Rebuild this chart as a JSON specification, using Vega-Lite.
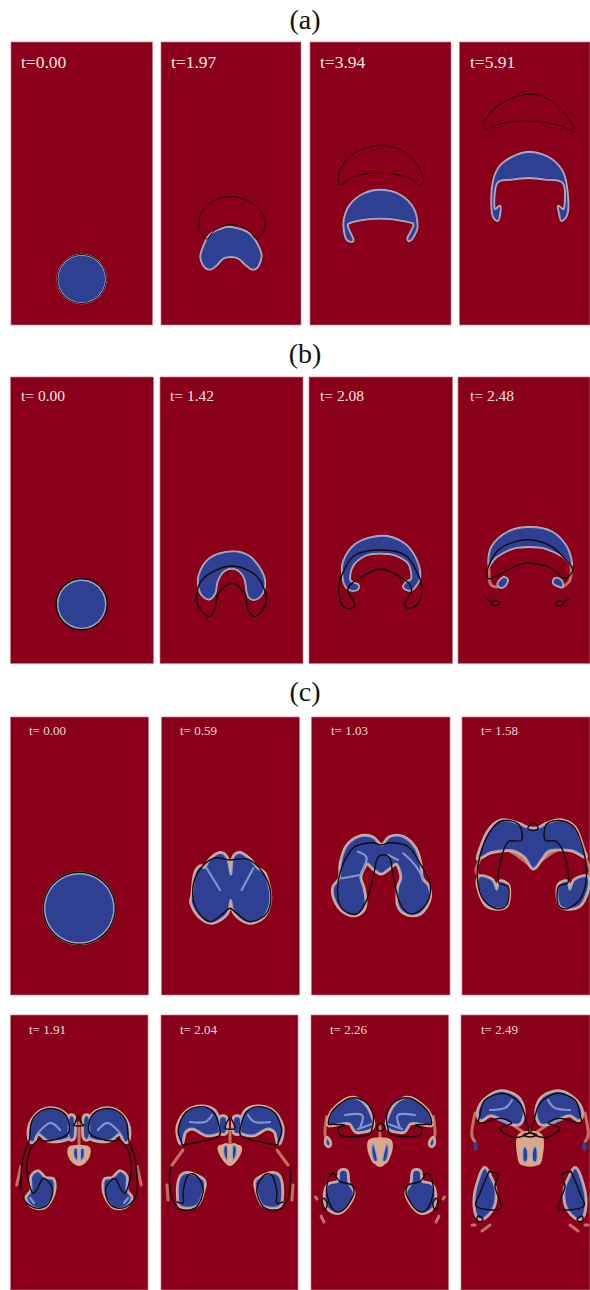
{"$schema":"https://vega.github.io/schema/vega-lite/v6.json","width":590,"height":1290,"padding":0,"autosize":{"type":"none"},"background":"white","config":{"view":{"stroke":null}},
"datasets":{
"panels":[
{"p":"a1","x":11,"x2":152.5,"y":42,"y2":325},{"p":"a2","x":161,"x2":301,"y":42,"y2":325},{"p":"a3","x":310,"x2":451,"y":42,"y2":325},{"p":"a4","x":459.5,"x2":590,"y":42,"y2":325},
{"p":"b1","x":10.5,"x2":153.5,"y":377,"y2":663.5},{"p":"b2","x":160,"x2":303,"y":377,"y2":663.5},{"p":"b3","x":309,"x2":452.5,"y":377,"y2":663.5},{"p":"b4","x":458,"x2":590,"y":377,"y2":663.5},
{"p":"c1","x":10.5,"x2":148.5,"y":717,"y2":995},{"p":"c2","x":161.5,"x2":299.5,"y":717,"y2":995},{"p":"c3","x":311.5,"x2":450,"y":717,"y2":995},{"p":"c4","x":462,"x2":590,"y":717,"y2":995},
{"p":"c5","x":10.5,"x2":148,"y":1015,"y2":1290},{"p":"c6","x":161,"x2":298,"y":1015,"y2":1290},{"p":"c7","x":311,"x2":448.5,"y":1015,"y2":1290},{"p":"c8","x":461,"x2":590,"y":1015,"y2":1290}],
"labels":[
{"t":"(a)","k":"h","x":305,"y":21},{"t":"(b)","k":"h","x":305,"y":355},{"t":"(c)","k":"h","x":305,"y":693},
{"t":"t=0.00","k":"m","x":21,"y":63},{"t":"t=1.97","k":"m","x":171,"y":63},{"t":"t=3.94","k":"m","x":320,"y":63},{"t":"t=5.91","k":"m","x":470,"y":63},
{"t":"t= 0.00","k":"m2","x":21,"y":396},{"t":"t= 1.42","k":"m2","x":170,"y":396},{"t":"t= 2.08","k":"m2","x":320,"y":396},{"t":"t= 2.48","k":"m2","x":470,"y":396},
{"t":"t= 0.00","k":"s","x":29,"y":731},{"t":"t= 0.59","k":"s","x":180,"y":731},{"t":"t= 1.03","k":"s","x":331,"y":731},{"t":"t= 1.58","k":"s","x":481,"y":731},
{"t":"t= 1.91","k":"s","x":29,"y":1030},{"t":"t= 2.04","k":"s","x":180,"y":1030},{"t":"t= 2.26","k":"s","x":330,"y":1030},{"t":"t= 2.49","k":"s","x":481,"y":1030}],
"halos":[
{"s":"c5h","x":70,"y":1147},{"s":"c5h","x":88,"y":1147},{"s":"c5h","x":88,"y":1158},{"s":"c5h","x":79,"y":1165},{"s":"c5h","x":70,"y":1158},
{"s":"c6h","x":220,"y":1146},{"s":"c6h","x":239.3,"y":1146},{"s":"c6h","x":239.3,"y":1155},{"s":"c6h","x":230,"y":1165},{"s":"c6h","x":220.7,"y":1155},
{"s":"c7h","x":370,"y":1140},{"s":"c7h","x":390,"y":1140},{"s":"c7h","x":390,"y":1155},{"s":"c7h","x":380,"y":1166},{"s":"c7h","x":370,"y":1155},
{"s":"c8h","x":519,"y":1135},{"s":"c8h","x":541,"y":1135},{"s":"c8h","x":541,"y":1160},{"s":"c8h","x":535,"y":1165},{"s":"c8h","x":525,"y":1165},{"s":"c8h","x":519,"y":1160}],
"tan":[
{"s":"b4l","x":489,"y":565},{"s":"b4l","x":490,"y":583},{"s":"b4l","x":497,"y":587},
{"s":"b4r","x":571,"y":565},{"s":"b4r","x":570,"y":580},{"s":"b4r","x":562,"y":587},
{"s":"c4l","x":481,"y":857},{"s":"c4l","x":476,"y":870},{"s":"c4l","x":480,"y":877},
{"s":"c4r","x":585,"y":857},{"s":"c4r","x":590,"y":870},{"s":"c4r","x":586.6,"y":877},
{"s":"c4w1","x":482,"y":857},{"s":"c4w1","x":505,"y":849},{"s":"c4w1","x":533,"y":868},
{"s":"c4w2","x":585,"y":857},{"s":"c4w2","x":560,"y":849},{"s":"c4w2","x":533,"y":868},
{"s":"c4m","x":533.3,"y":830},{"s":"c4m","x":533.3,"y":866},
{"s":"c3m","x":381,"y":845},{"s":"c3m","x":381,"y":871},
{"s":"c2m","x":230,"y":860},{"s":"c2m","x":230,"y":872},
{"s":"c5m","x":79,"y":1123},{"s":"c5m","x":79,"y":1147},
{"s":"c5sl","x":16.7,"y":1185},{"s":"c5sl","x":20.7,"y":1166.7},
{"s":"c5sr","x":141.3,"y":1185},{"s":"c5sr","x":137.3,"y":1166.7},
{"s":"c6m","x":230,"y":1130},{"s":"c6m","x":230,"y":1146},
{"s":"c6sl","x":168,"y":1200},{"s":"c6sl","x":167,"y":1185},
{"s":"c6sr","x":292,"y":1200},{"s":"c6sr","x":293,"y":1185},
{"s":"c6fl","x":172,"y":1165},{"s":"c6fl","x":183,"y":1150},
{"s":"c6fr","x":288,"y":1165},{"s":"c6fr","x":277,"y":1150},
{"s":"c7m","x":380,"y":1126.7},{"s":"c7m","x":380,"y":1150},
{"s":"c7tl","x":326.7,"y":1116.7},{"s":"c7tl","x":325,"y":1133.3},{"s":"c7tl","x":328.3,"y":1145},
{"s":"c7tr","x":433.3,"y":1116.7},{"s":"c7tr","x":435,"y":1133.3},{"s":"c7tr","x":431.7,"y":1145},
{"s":"c7s1","x":321,"y":1216},{"s":"c7s1","x":324,"y":1222},
{"s":"c7s2","x":315.5,"y":1197},{"s":"c7s2","x":317,"y":1199},
{"s":"c7s3","x":439,"y":1216},{"s":"c7s3","x":436,"y":1222},
{"s":"c7s4","x":444.5,"y":1197},{"s":"c7s4","x":443,"y":1199},
{"s":"c8tl","x":475,"y":1113},{"s":"c8tl","x":471.7,"y":1133.3},{"s":"c8tl","x":475,"y":1141.7},
{"s":"c8tr","x":585,"y":1113},{"s":"c8tr","x":588.3,"y":1133.3},{"s":"c8tr","x":585,"y":1141.7},
{"s":"c8al","x":513,"y":1125},{"s":"c8al","x":526,"y":1134},
{"s":"c8ar","x":547,"y":1125},{"s":"c8ar","x":534,"y":1134},
{"s":"c8m","x":530,"y":1130},{"s":"c8m","x":530,"y":1160},
{"s":"c8s1","x":472,"y":1225},{"s":"c8s1","x":475,"y":1225},
{"s":"c8s2","x":482,"y":1231},{"s":"c8s2","x":490,"y":1225},
{"s":"c8s3","x":588,"y":1225},{"s":"c8s3","x":585,"y":1225},
{"s":"c8s4","x":578,"y":1231},{"s":"c8s4","x":570,"y":1225},
{"s":"c8d1","x":475.7,"y":1144},{"s":"c8d1","x":475.7,"y":1149},
{"s":"c8d2","x":584.3,"y":1144},{"s":"c8d2","x":584.3,"y":1149}],
"blobs":[
{"s":"a1","g":"a","x":105.7,"y":279},{"s":"a1","g":"a","x":102.5,"y":291},{"s":"a1","g":"a","x":93.7,"y":299.8},{"s":"a1","g":"a","x":81.7,"y":303},{"s":"a1","g":"a","x":69.7,"y":299.8},{"s":"a1","g":"a","x":60.9,"y":291},{"s":"a1","g":"a","x":57.7,"y":279},{"s":"a1","g":"a","x":60.9,"y":267},{"s":"a1","g":"a","x":69.7,"y":258.2},{"s":"a1","g":"a","x":81.7,"y":255},{"s":"a1","g":"a","x":93.7,"y":258.2},{"s":"a1","g":"a","x":102.5,"y":267},
{"s":"a2","g":"a","x":231,"y":227.3},{"s":"a2","g":"a","x":250,"y":234.3},{"s":"a2","g":"a","x":261,"y":253.3},{"s":"a2","g":"a","x":258.3,"y":266},{"s":"a2","g":"a","x":252.3,"y":269.3},{"s":"a2","g":"a","x":246,"y":265},{"s":"a2","g":"a","x":238.3,"y":258.3},{"s":"a2","g":"a","x":231,"y":256.7},{"s":"a2","g":"a","x":223.3,"y":258.3},{"s":"a2","g":"a","x":216.7,"y":265},{"s":"a2","g":"a","x":210,"y":269.3},{"s":"a2","g":"a","x":203.3,"y":265},{"s":"a2","g":"a","x":200.7,"y":255},{"s":"a2","g":"a","x":208.3,"y":236.7},{"s":"a2","g":"a","x":218.3,"y":230},
{"s":"a3","g":"a","x":381,"y":190},{"s":"a3","g":"a","x":400,"y":195},{"s":"a3","g":"a","x":413.3,"y":208.3},{"s":"a3","g":"a","x":417.3,"y":226.7},{"s":"a3","g":"a","x":413.3,"y":236.7},{"s":"a3","g":"a","x":410,"y":240.7},{"s":"a3","g":"a","x":407.7,"y":238.3},{"s":"a3","g":"a","x":413.3,"y":226.7},{"s":"a3","g":"a","x":411.7,"y":222.7},{"s":"a3","g":"a","x":395,"y":219.3},{"s":"a3","g":"a","x":381,"y":218.3},{"s":"a3","g":"a","x":365,"y":219.3},{"s":"a3","g":"a","x":350,"y":222.7},{"s":"a3","g":"a","x":347.7,"y":226.7},{"s":"a3","g":"a","x":353.3,"y":240},{"s":"a3","g":"a","x":348.3,"y":240.7},{"s":"a3","g":"a","x":345,"y":235},{"s":"a3","g":"a","x":344,"y":220},{"s":"a3","g":"a","x":350,"y":205},{"s":"a3","g":"a","x":363.3,"y":194},
{"s":"a4","g":"a","x":529,"y":152.3},{"s":"a4","g":"a","x":548.3,"y":157.3},{"s":"a4","g":"a","x":561.7,"y":170},{"s":"a4","g":"a","x":566.7,"y":186.7},{"s":"a4","g":"a","x":567.7,"y":211.7},{"s":"a4","g":"a","x":561.7,"y":220.7},{"s":"a4","g":"a","x":559,"y":211.7},{"s":"a4","g":"a","x":558.3,"y":206},{"s":"a4","g":"a","x":564.3,"y":208.3},{"s":"a4","g":"a","x":563.3,"y":183.3},{"s":"a4","g":"a","x":545,"y":179.3},{"s":"a4","g":"a","x":529,"y":177.7},{"s":"a4","g":"a","x":511.7,"y":179.3},{"s":"a4","g":"a","x":496.7,"y":183.3},{"s":"a4","g":"a","x":494.3,"y":208.3},{"s":"a4","g":"a","x":500,"y":206},{"s":"a4","g":"a","x":500,"y":213.3},{"s":"a4","g":"a","x":497.7,"y":220.7},{"s":"a4","g":"a","x":492.3,"y":213.3},{"s":"a4","g":"a","x":492.3,"y":186.7},{"s":"a4","g":"a","x":498.3,"y":168.3},{"s":"a4","g":"a","x":511.7,"y":157.3},
{"s":"b1","g":"b","x":105.7,"y":604.3},{"s":"b1","g":"b","x":102.5,"y":616.3},{"s":"b1","g":"b","x":93.7,"y":625.1},{"s":"b1","g":"b","x":81.7,"y":628.3},{"s":"b1","g":"b","x":69.7,"y":625.1},{"s":"b1","g":"b","x":60.9,"y":616.3},{"s":"b1","g":"b","x":57.7,"y":604.3},{"s":"b1","g":"b","x":60.9,"y":592.3},{"s":"b1","g":"b","x":69.7,"y":583.5},{"s":"b1","g":"b","x":81.7,"y":580.3},{"s":"b1","g":"b","x":93.7,"y":583.5},{"s":"b1","g":"b","x":102.5,"y":592.3},
{"s":"b2","g":"b","x":231.7,"y":551.7},{"s":"b2","g":"b","x":250,"y":556.7},{"s":"b2","g":"b","x":263.3,"y":575},{"s":"b2","g":"b","x":264,"y":590},{"s":"b2","g":"b","x":256.7,"y":599},{"s":"b2","g":"b","x":248.3,"y":596.7},{"s":"b2","g":"b","x":245,"y":580},{"s":"b2","g":"b","x":240,"y":571.7},{"s":"b2","g":"b","x":231.7,"y":568.3},{"s":"b2","g":"b","x":223.3,"y":571.7},{"s":"b2","g":"b","x":217.3,"y":581.7},{"s":"b2","g":"b","x":215,"y":593.3},{"s":"b2","g":"b","x":208.3,"y":599.3},{"s":"b2","g":"b","x":200,"y":591.7},{"s":"b2","g":"b","x":199,"y":575},{"s":"b2","g":"b","x":210,"y":558.3},
{"s":"b3","g":"b","x":381,"y":536},{"s":"b3","g":"b","x":401.7,"y":541.7},{"s":"b3","g":"b","x":415,"y":556.7},{"s":"b3","g":"b","x":420,"y":576.7},{"s":"b3","g":"b","x":411.7,"y":590},{"s":"b3","g":"b","x":403.3,"y":587.3},{"s":"b3","g":"b","x":406.7,"y":581.7},{"s":"b3","g":"b","x":411.7,"y":578.3},{"s":"b3","g":"b","x":408.3,"y":563.3},{"s":"b3","g":"b","x":395,"y":555},{"s":"b3","g":"b","x":381,"y":553.3},{"s":"b3","g":"b","x":366.7,"y":555},{"s":"b3","g":"b","x":353.3,"y":565},{"s":"b3","g":"b","x":350,"y":580},{"s":"b3","g":"b","x":358.3,"y":585},{"s":"b3","g":"b","x":356.7,"y":590},{"s":"b3","g":"b","x":348.3,"y":589.3},{"s":"b3","g":"b","x":343.3,"y":580},{"s":"b3","g":"b","x":343.3,"y":561.7},{"s":"b3","g":"b","x":356.7,"y":543.3},
{"s":"b4","g":"b","x":530,"y":527.3},{"s":"b4","g":"b","x":551.7,"y":531.7},{"s":"b4","g":"b","x":566.7,"y":546.7},{"s":"b4","g":"b","x":571.7,"y":565},{"s":"b4","g":"b","x":563.3,"y":556.7},{"s":"b4","g":"b","x":545,"y":548.3},{"s":"b4","g":"b","x":530,"y":546.7},{"s":"b4","g":"b","x":513.3,"y":548.3},{"s":"b4","g":"b","x":496.7,"y":556.7},{"s":"b4","g":"b","x":489,"y":565},{"s":"b4","g":"b","x":491.7,"y":546.7},{"s":"b4","g":"b","x":508.3,"y":531.7},
{"s":"b4a","g":"b","x":500,"y":587.3},{"s":"b4a","g":"b","x":497.7,"y":583.3},{"s":"b4a","g":"b","x":503.3,"y":577.3},{"s":"b4a","g":"b","x":507.7,"y":580},{"s":"b4a","g":"b","x":505,"y":586},
{"s":"b4b","g":"b","x":561.7,"y":587.3},{"s":"b4b","g":"b","x":553.3,"y":583.3},{"s":"b4b","g":"b","x":555,"y":578.3},{"s":"b4b","g":"b","x":560,"y":579.3},{"s":"b4b","g":"b","x":562.7,"y":583.3},
{"s":"c1","g":"c","x":113.8,"y":908.3},{"s":"c1","g":"c","x":109.2,"y":925.6},{"s":"c1","g":"c","x":96.6,"y":938.2},{"s":"c1","g":"c","x":79.3,"y":942.8},{"s":"c1","g":"c","x":62,"y":938.2},{"s":"c1","g":"c","x":49.4,"y":925.6},{"s":"c1","g":"c","x":44.8,"y":908.3},{"s":"c1","g":"c","x":49.4,"y":891},{"s":"c1","g":"c","x":62,"y":878.4},{"s":"c1","g":"c","x":79.3,"y":873.8},{"s":"c1","g":"c","x":96.6,"y":878.4},{"s":"c1","g":"c","x":109.2,"y":891},
{"s":"c2","g":"c","x":230,"y":873.3},{"s":"c2","g":"c","x":226.7,"y":858.3},{"s":"c2","g":"c","x":220,"y":853.3},{"s":"c2","g":"c","x":210,"y":860},{"s":"c2","g":"c","x":205,"y":868.3},{"s":"c2","g":"c","x":200,"y":866.7},{"s":"c2","g":"c","x":195,"y":875},{"s":"c2","g":"c","x":192.7,"y":895},{"s":"c2","g":"c","x":191.7,"y":903.3},{"s":"c2","g":"c","x":200,"y":916.7},{"s":"c2","g":"c","x":213.3,"y":922.3},{"s":"c2","g":"c","x":226.7,"y":913.3},{"s":"c2","g":"c","x":230.7,"y":899.3},{"s":"c2","g":"c","x":235,"y":913.3},{"s":"c2","g":"c","x":248.3,"y":922.3},{"s":"c2","g":"c","x":263.3,"y":916.7},{"s":"c2","g":"c","x":270,"y":898.3},{"s":"c2","g":"c","x":265,"y":875},{"s":"c2","g":"c","x":256.7,"y":868.3},{"s":"c2","g":"c","x":250,"y":860},{"s":"c2","g":"c","x":240,"y":853.3},{"s":"c2","g":"c","x":233.3,"y":858.3},{"s":"c2","g":"c","x":231.7,"y":873.3},
{"s":"c3","g":"c","x":380,"y":845},{"s":"c3","g":"c","x":371.7,"y":837.3},{"s":"c3","g":"c","x":358.3,"y":837.3},{"s":"c3","g":"c","x":346.7,"y":846.7},{"s":"c3","g":"c","x":341,"y":863.3},{"s":"c3","g":"c","x":340,"y":878.3},{"s":"c3","g":"c","x":333.3,"y":888.3},{"s":"c3","g":"c","x":336.7,"y":903.3},{"s":"c3","g":"c","x":346.7,"y":913.3},{"s":"c3","g":"c","x":358.3,"y":914},{"s":"c3","g":"c","x":365,"y":905},{"s":"c3","g":"c","x":363.3,"y":888.3},{"s":"c3","g":"c","x":360,"y":876.7},{"s":"c3","g":"c","x":366.7,"y":863.3},{"s":"c3","g":"c","x":373.3,"y":868.3},{"s":"c3","g":"c","x":381,"y":873.3},{"s":"c3","g":"c","x":389,"y":868.3},{"s":"c3","g":"c","x":396.7,"y":863.3},{"s":"c3","g":"c","x":401.7,"y":876.7},{"s":"c3","g":"c","x":398.3,"y":888.3},{"s":"c3","g":"c","x":398.3,"y":905},{"s":"c3","g":"c","x":406.7,"y":914},{"s":"c3","g":"c","x":420,"y":913.3},{"s":"c3","g":"c","x":429,"y":900},{"s":"c3","g":"c","x":428.3,"y":886.7},{"s":"c3","g":"c","x":421.7,"y":878.3},{"s":"c3","g":"c","x":420,"y":863.3},{"s":"c3","g":"c","x":415,"y":848.3},{"s":"c3","g":"c","x":403.3,"y":837.3},{"s":"c3","g":"c","x":390,"y":837.3},{"s":"c3","g":"c","x":383.3,"y":845},
{"s":"c4","g":"c","x":533.3,"y":868.3},{"s":"c4","g":"c","x":525,"y":856.7},{"s":"c4","g":"c","x":511.7,"y":850},{"s":"c4","g":"c","x":491.7,"y":851.7},{"s":"c4","g":"c","x":481.7,"y":856.7},{"s":"c4","g":"c","x":478.3,"y":856.7},{"s":"c4","g":"c","x":488.3,"y":831.7},{"s":"c4","g":"c","x":501.7,"y":820.7},{"s":"c4","g":"c","x":518.3,"y":824},{"s":"c4","g":"c","x":528.3,"y":828.3},{"s":"c4","g":"c","x":538.3,"y":828.3},{"s":"c4","g":"c","x":548.3,"y":823.3},{"s":"c4","g":"c","x":561.7,"y":820.7},{"s":"c4","g":"c","x":575,"y":828.3},{"s":"c4","g":"c","x":583.3,"y":850},{"s":"c4","g":"c","x":585,"y":856.7},{"s":"c4","g":"c","x":571.7,"y":850},{"s":"c4","g":"c","x":550,"y":850},{"s":"c4","g":"c","x":541.7,"y":858.3},
{"s":"c4a","g":"c","x":480,"y":876.7},{"s":"c4a","g":"c","x":491.7,"y":880},{"s":"c4a","g":"c","x":496.7,"y":890},{"s":"c4a","g":"c","x":500,"y":881.7},{"s":"c4a","g":"c","x":508.3,"y":886.7},{"s":"c4a","g":"c","x":506.7,"y":905},{"s":"c4a","g":"c","x":495,"y":908.3},{"s":"c4a","g":"c","x":485,"y":903.3},{"s":"c4a","g":"c","x":478.3,"y":886.7},
{"s":"c4b","g":"c","x":586.6,"y":876.7},{"s":"c4b","g":"c","x":574.9,"y":880},{"s":"c4b","g":"c","x":569.9,"y":890},{"s":"c4b","g":"c","x":566.6,"y":881.7},{"s":"c4b","g":"c","x":558.3,"y":886.7},{"s":"c4b","g":"c","x":559.9,"y":905},{"s":"c4b","g":"c","x":571.6,"y":908.3},{"s":"c4b","g":"c","x":581.6,"y":903.3},{"s":"c4b","g":"c","x":588.3,"y":886.7},
{"s":"c5a","g":"c","x":29.3,"y":1138.3},{"s":"c5a","g":"c","x":30.7,"y":1123.3},{"s":"c5a","g":"c","x":41.7,"y":1110.7},{"s":"c5a","g":"c","x":55,"y":1109},{"s":"c5a","g":"c","x":66.7,"y":1116.7},{"s":"c5a","g":"c","x":69,"y":1136.7},{"s":"c5a","g":"c","x":50,"y":1140.7},{"s":"c5a","g":"c","x":38.3,"y":1133.3},{"s":"c5a","g":"c","x":33.3,"y":1141.7},
{"s":"c5b","g":"c","x":128.7,"y":1138.3},{"s":"c5b","g":"c","x":127.3,"y":1123.3},{"s":"c5b","g":"c","x":116.3,"y":1110.7},{"s":"c5b","g":"c","x":103,"y":1109},{"s":"c5b","g":"c","x":91.3,"y":1116.7},{"s":"c5b","g":"c","x":89,"y":1136.7},{"s":"c5b","g":"c","x":108,"y":1140.7},{"s":"c5b","g":"c","x":119.7,"y":1133.3},{"s":"c5b","g":"c","x":124.7,"y":1141.7},
{"s":"c5c","g":"c","x":69,"y":1118},{"s":"c5c","g":"c","x":74,"y":1118},{"s":"c5c","g":"c","x":74,"y":1137},{"s":"c5c","g":"c","x":69,"y":1137},
{"s":"c5d","g":"c","x":89,"y":1118},{"s":"c5d","g":"c","x":84,"y":1118},{"s":"c5d","g":"c","x":84,"y":1137},{"s":"c5d","g":"c","x":89,"y":1137},
{"s":"c5e","g":"c","x":74,"y":1149.3},{"s":"c5e","g":"c","x":77.3,"y":1149.3},{"s":"c5e","g":"c","x":77.3,"y":1160},{"s":"c5e","g":"c","x":74,"y":1156.7},
{"s":"c5f","g":"c","x":84,"y":1149.3},{"s":"c5f","g":"c","x":80.7,"y":1149.3},{"s":"c5f","g":"c","x":80.7,"y":1160},{"s":"c5f","g":"c","x":84,"y":1156.7},
{"s":"c5g","g":"c","x":31.7,"y":1176.7},{"s":"c5g","g":"c","x":38.3,"y":1171.7},{"s":"c5g","g":"c","x":45,"y":1178.3},{"s":"c5g","g":"c","x":53.3,"y":1180},{"s":"c5g","g":"c","x":53.3,"y":1193.3},{"s":"c5g","g":"c","x":45,"y":1206.7},{"s":"c5g","g":"c","x":33.3,"y":1206.7},{"s":"c5g","g":"c","x":26.7,"y":1198.3},{"s":"c5g","g":"c","x":31.7,"y":1190},
{"s":"c5i","g":"c","x":126.3,"y":1176.7},{"s":"c5i","g":"c","x":119.7,"y":1171.7},{"s":"c5i","g":"c","x":113,"y":1178.3},{"s":"c5i","g":"c","x":104.7,"y":1180},{"s":"c5i","g":"c","x":104.7,"y":1193.3},{"s":"c5i","g":"c","x":113,"y":1206.7},{"s":"c5i","g":"c","x":124.7,"y":1206.7},{"s":"c5i","g":"c","x":131.3,"y":1198.3},{"s":"c5i","g":"c","x":126.3,"y":1190},
{"s":"c6a","g":"c","x":178.3,"y":1136.7},{"s":"c6a","g":"c","x":178.3,"y":1125},{"s":"c6a","g":"c","x":186.7,"y":1111.7},{"s":"c6a","g":"c","x":200,"y":1106.7},{"s":"c6a","g":"c","x":213.3,"y":1110},{"s":"c6a","g":"c","x":219.3,"y":1121.7},{"s":"c6a","g":"c","x":220,"y":1131.7},{"s":"c6a","g":"c","x":206.7,"y":1135},{"s":"c6a","g":"c","x":193.3,"y":1128.3},{"s":"c6a","g":"c","x":185,"y":1131.7},{"s":"c6a","g":"c","x":181.7,"y":1143.3},
{"s":"c6b","g":"c","x":281.7,"y":1136.7},{"s":"c6b","g":"c","x":281.7,"y":1125},{"s":"c6b","g":"c","x":273.3,"y":1111.7},{"s":"c6b","g":"c","x":260,"y":1106.7},{"s":"c6b","g":"c","x":246.7,"y":1110},{"s":"c6b","g":"c","x":240.7,"y":1121.7},{"s":"c6b","g":"c","x":240,"y":1131.7},{"s":"c6b","g":"c","x":253.3,"y":1135},{"s":"c6b","g":"c","x":266.7,"y":1128.3},{"s":"c6b","g":"c","x":275,"y":1131.7},{"s":"c6b","g":"c","x":278.3,"y":1143.3},
{"s":"c6c","g":"c","x":220,"y":1118.3},{"s":"c6c","g":"c","x":226,"y":1118.3},{"s":"c6c","g":"c","x":226,"y":1132},{"s":"c6c","g":"c","x":220,"y":1132},
{"s":"c6d","g":"c","x":240,"y":1118.3},{"s":"c6d","g":"c","x":234,"y":1118.3},{"s":"c6d","g":"c","x":234,"y":1132},{"s":"c6d","g":"c","x":240,"y":1132},
{"s":"c6e","g":"c","x":224,"y":1146.7},{"s":"c6e","g":"c","x":227.3,"y":1146.7},{"s":"c6e","g":"c","x":227.3,"y":1160},{"s":"c6e","g":"c","x":224,"y":1155},
{"s":"c6f","g":"c","x":236,"y":1146.7},{"s":"c6f","g":"c","x":232.7,"y":1146.7},{"s":"c6f","g":"c","x":232.7,"y":1160},{"s":"c6f","g":"c","x":236,"y":1155},
{"s":"c6g","g":"c","x":180,"y":1178.3},{"s":"c6g","g":"c","x":188.3,"y":1173.3},{"s":"c6g","g":"c","x":203.3,"y":1180},{"s":"c6g","g":"c","x":203.3,"y":1190},{"s":"c6g","g":"c","x":196.7,"y":1205},{"s":"c6g","g":"c","x":181.7,"y":1206.7},{"s":"c6g","g":"c","x":178.3,"y":1196.7},
{"s":"c6i","g":"c","x":280,"y":1178.3},{"s":"c6i","g":"c","x":271.7,"y":1173.3},{"s":"c6i","g":"c","x":256.7,"y":1180},{"s":"c6i","g":"c","x":256.7,"y":1190},{"s":"c6i","g":"c","x":263.3,"y":1205},{"s":"c6i","g":"c","x":278.3,"y":1206.7},{"s":"c6i","g":"c","x":281.7,"y":1196.7},
{"s":"c7a","g":"c","x":328.3,"y":1123.3},{"s":"c7a","g":"c","x":333.3,"y":1110},{"s":"c7a","g":"c","x":350,"y":1098.3},{"s":"c7a","g":"c","x":363.3,"y":1103.3},{"s":"c7a","g":"c","x":371.7,"y":1118.3},{"s":"c7a","g":"c","x":371.7,"y":1128.3},{"s":"c7a","g":"c","x":356.7,"y":1131.7},{"s":"c7a","g":"c","x":350,"y":1123.3},{"s":"c7a","g":"c","x":340,"y":1123.3},{"s":"c7a","g":"c","x":331.7,"y":1125},
{"s":"c7b","g":"c","x":431.7,"y":1123.3},{"s":"c7b","g":"c","x":426.7,"y":1110},{"s":"c7b","g":"c","x":410,"y":1098.3},{"s":"c7b","g":"c","x":396.7,"y":1103.3},{"s":"c7b","g":"c","x":388.3,"y":1118.3},{"s":"c7b","g":"c","x":388.3,"y":1128.3},{"s":"c7b","g":"c","x":403.3,"y":1131.7},{"s":"c7b","g":"c","x":410,"y":1123.3},{"s":"c7b","g":"c","x":420,"y":1123.3},{"s":"c7b","g":"c","x":428.3,"y":1125},
{"s":"c7c","g":"c","x":327.3,"y":1138.3},{"s":"c7c","g":"c","x":330,"y":1143.3},{"s":"c7c","g":"c","x":328.3,"y":1146},{"s":"c7c","g":"c","x":326,"y":1142.7},
{"s":"c7d","g":"c","x":432.7,"y":1138.3},{"s":"c7d","g":"c","x":430,"y":1143.3},{"s":"c7d","g":"c","x":431.7,"y":1146},{"s":"c7d","g":"c","x":434,"y":1142.7},
{"s":"c7e","g":"c","x":372.7,"y":1143.3},{"s":"c7e","g":"c","x":375,"y":1148.3},{"s":"c7e","g":"c","x":377.3,"y":1160},{"s":"c7e","g":"c","x":374,"y":1160.7},{"s":"c7e","g":"c","x":371.7,"y":1151.7},
{"s":"c7f","g":"c","x":387.3,"y":1143.3},{"s":"c7f","g":"c","x":385,"y":1148.3},{"s":"c7f","g":"c","x":382.7,"y":1160},{"s":"c7f","g":"c","x":386,"y":1160.7},{"s":"c7f","g":"c","x":388.3,"y":1151.7},
{"s":"c7g","g":"c","x":328.3,"y":1185},{"s":"c7g","g":"c","x":338.3,"y":1181.7},{"s":"c7g","g":"c","x":340,"y":1171.7},{"s":"c7g","g":"c","x":346.7,"y":1171.7},{"s":"c7g","g":"c","x":348.3,"y":1183.3},{"s":"c7g","g":"c","x":353.3,"y":1193.3},{"s":"c7g","g":"c","x":346.7,"y":1206.7},{"s":"c7g","g":"c","x":338.3,"y":1212.7},{"s":"c7g","g":"c","x":328.3,"y":1208.3},{"s":"c7g","g":"c","x":325,"y":1196.7},
{"s":"c7i","g":"c","x":431.7,"y":1185},{"s":"c7i","g":"c","x":421.7,"y":1181.7},{"s":"c7i","g":"c","x":420,"y":1171.7},{"s":"c7i","g":"c","x":413.3,"y":1171.7},{"s":"c7i","g":"c","x":411.7,"y":1183.3},{"s":"c7i","g":"c","x":406.7,"y":1193.3},{"s":"c7i","g":"c","x":413.3,"y":1206.7},{"s":"c7i","g":"c","x":421.7,"y":1212.7},{"s":"c7i","g":"c","x":431.7,"y":1208.3},{"s":"c7i","g":"c","x":435,"y":1196.7},
{"s":"c8a","g":"c","x":478.3,"y":1111.7},{"s":"c8a","g":"c","x":485,"y":1100},{"s":"c8a","g":"c","x":500,"y":1091.7},{"s":"c8a","g":"c","x":516.7,"y":1096.7},{"s":"c8a","g":"c","x":523.3,"y":1110},{"s":"c8a","g":"c","x":520,"y":1123.3},{"s":"c8a","g":"c","x":510,"y":1123.3},{"s":"c8a","g":"c","x":500,"y":1118},{"s":"c8a","g":"c","x":490,"y":1115},{"s":"c8a","g":"c","x":481,"y":1120},
{"s":"c8b","g":"c","x":581.7,"y":1111.7},{"s":"c8b","g":"c","x":575,"y":1100},{"s":"c8b","g":"c","x":560,"y":1091.7},{"s":"c8b","g":"c","x":543.3,"y":1096.7},{"s":"c8b","g":"c","x":536.7,"y":1110},{"s":"c8b","g":"c","x":540,"y":1123.3},{"s":"c8b","g":"c","x":550,"y":1123.3},{"s":"c8b","g":"c","x":560,"y":1118},{"s":"c8b","g":"c","x":570,"y":1115},{"s":"c8b","g":"c","x":579,"y":1120},
{"s":"c8c","g":"c","x":524,"y":1146.7},{"s":"c8c","g":"c","x":527.3,"y":1150},{"s":"c8c","g":"c","x":527.3,"y":1160},{"s":"c8c","g":"c","x":524,"y":1161.7},{"s":"c8c","g":"c","x":522.7,"y":1155},
{"s":"c8d","g":"c","x":536,"y":1146.7},{"s":"c8d","g":"c","x":532.7,"y":1150},{"s":"c8d","g":"c","x":532.7,"y":1160},{"s":"c8d","g":"c","x":536,"y":1161.7},{"s":"c8d","g":"c","x":537.3,"y":1155},
{"s":"c8e","g":"c","x":485,"y":1168.3},{"s":"c8e","g":"c","x":490,"y":1176.7},{"s":"c8e","g":"c","x":495,"y":1190},{"s":"c8e","g":"c","x":493.3,"y":1206.7},{"s":"c8e","g":"c","x":483.3,"y":1218.3},{"s":"c8e","g":"c","x":476.7,"y":1215},{"s":"c8e","g":"c","x":475,"y":1196.7},{"s":"c8e","g":"c","x":480,"y":1176.7},
{"s":"c8f","g":"c","x":575,"y":1168.3},{"s":"c8f","g":"c","x":570,"y":1176.7},{"s":"c8f","g":"c","x":565,"y":1190},{"s":"c8f","g":"c","x":566.7,"y":1206.7},{"s":"c8f","g":"c","x":576.7,"y":1218.3},{"s":"c8f","g":"c","x":583.3,"y":1215},{"s":"c8f","g":"c","x":585,"y":1196.7},{"s":"c8f","g":"c","x":580,"y":1176.7}],
"light":[
{"s":"c2l","x":206.7,"y":868.3},{"s":"c2l","x":220,"y":890},{"s":"c2r","x":253.3,"y":868.3},{"s":"c2r","x":241.7,"y":890},
{"s":"c3a","x":358,"y":851.7},{"s":"c3a","x":366.7,"y":858},{"s":"c3a","x":361,"y":873},{"s":"c3b","x":341.7,"y":878.3},{"s":"c3b","x":360,"y":875},
{"s":"c3c","x":403.3,"y":853.3},{"s":"c3c","x":415,"y":865},{"s":"c3c","x":423.3,"y":878.3},{"s":"c3d","x":388,"y":855},{"s":"c3d","x":398,"y":860},
{"s":"c5a","x":38,"y":1133},{"s":"c5a","x":50,"y":1123},{"s":"c5a","x":60,"y":1130},{"s":"c5b","x":120,"y":1133},{"s":"c5b","x":108,"y":1123},{"s":"c5b","x":98,"y":1130},
{"s":"c5c","x":30,"y":1198},{"s":"c5c","x":34,"y":1203},{"s":"c5d","x":128,"y":1198},{"s":"c5d","x":124,"y":1203},
{"s":"c6a","x":190,"y":1122},{"s":"c6a","x":205,"y":1122},{"s":"c6a","x":212,"y":1115},{"s":"c6b","x":270,"y":1122},{"s":"c6b","x":255,"y":1122},{"s":"c6b","x":248,"y":1115},
{"s":"c7a","x":345,"y":1115},{"s":"c7a","x":362,"y":1115},{"s":"c7a","x":360,"y":1128},{"s":"c7b","x":415,"y":1115},{"s":"c7b","x":398,"y":1115},{"s":"c7b","x":400,"y":1128},
{"s":"c7c","x":372,"y":1124},{"s":"c7c","x":358,"y":1129},{"s":"c7d","x":388,"y":1124},{"s":"c7d","x":402,"y":1129},
{"s":"c8a","x":490,"y":1110},{"s":"c8a","x":505,"y":1108},{"s":"c8a","x":512,"y":1100},{"s":"c8b","x":570,"y":1110},{"s":"c8b","x":555,"y":1108},{"s":"c8b","x":548,"y":1100},
{"s":"c8c","x":497,"y":1119},{"s":"c8c","x":510,"y":1124},{"s":"c8d","x":563,"y":1119},{"s":"c8d","x":550,"y":1124}],
"blue":[
{"s":"c8l","x":475.7,"y":1144.5},{"s":"c8l","x":475.7,"y":1148},{"s":"c8r","x":584.3,"y":1144.5},{"s":"c8r","x":584.3,"y":1148}],
"contours":[
{"s":"a1","x":106.2,"y":279},{"s":"a1","x":103,"y":291.3},{"s":"a1","x":94,"y":300.2},{"s":"a1","x":81.7,"y":303.5},{"s":"a1","x":69.4,"y":300.2},{"s":"a1","x":60.5,"y":291.3},{"s":"a1","x":57.2,"y":279},{"s":"a1","x":60.5,"y":266.7},{"s":"a1","x":69.4,"y":257.8},{"s":"a1","x":81.7,"y":254.5},{"s":"a1","x":94,"y":257.8},{"s":"a1","x":103,"y":266.7},
{"s":"a2","x":206.7,"y":239},{"s":"a2","x":199,"y":228.3},{"s":"a2","x":201.7,"y":211.7},{"s":"a2","x":215,"y":200},{"s":"a2","x":231,"y":196.7},{"s":"a2","x":248.3,"y":200.7},{"s":"a2","x":261.7,"y":213.3},{"s":"a2","x":265,"y":227.3},{"s":"a2","x":256.7,"y":239},{"s":"a2","x":248.3,"y":230},{"s":"a2","x":231,"y":224.3},{"s":"a2","x":215,"y":230},
{"s":"a3","x":341,"y":185},{"s":"a3","x":338.3,"y":176.7},{"s":"a3","x":345,"y":161.7},{"s":"a3","x":360,"y":150},{"s":"a3","x":381,"y":145.7},{"s":"a3","x":400,"y":149.3},{"s":"a3","x":415,"y":161.7},{"s":"a3","x":423.3,"y":178.3},{"s":"a3","x":419.3,"y":185.7},{"s":"a3","x":410,"y":178.3},{"s":"a3","x":395,"y":174.3},{"s":"a3","x":381,"y":173.3},{"s":"a3","x":363.3,"y":174.3},{"s":"a3","x":350,"y":178.3},
{"s":"a4","x":485,"y":129.3},{"s":"a4","x":484.3,"y":121.7},{"s":"a4","x":495,"y":108.3},{"s":"a4","x":511.7,"y":98.3},{"s":"a4","x":529,"y":94.3},{"s":"a4","x":545,"y":97.3},{"s":"a4","x":561.7,"y":110},{"s":"a4","x":573.3,"y":126.7},{"s":"a4","x":570,"y":130},{"s":"a4","x":558.3,"y":125},{"s":"a4","x":529,"y":121},{"s":"a4","x":505,"y":122.7},{"s":"a4","x":491.7,"y":126.7},
{"s":"b1","x":107.2,"y":604.3},{"s":"b1","x":103.8,"y":617},{"s":"b1","x":94.5,"y":626.4},{"s":"b1","x":81.7,"y":629.8},{"s":"b1","x":68.9,"y":626.4},{"s":"b1","x":59.6,"y":617},{"s":"b1","x":56.2,"y":604.3},{"s":"b1","x":59.6,"y":591.5},{"s":"b1","x":68.9,"y":582.2},{"s":"b1","x":81.7,"y":578.8},{"s":"b1","x":94.5,"y":582.2},{"s":"b1","x":103.8,"y":591.5},
{"s":"b2","x":253.3,"y":573.3},{"s":"b2","x":263.3,"y":586.7},{"s":"b2","x":266,"y":603.3},{"s":"b2","x":255,"y":616.7},{"s":"b2","x":247.3,"y":608.3},{"s":"b2","x":245,"y":593.3},{"s":"b2","x":231.7,"y":583.3},{"s":"b2","x":218.3,"y":593.3},{"s":"b2","x":215,"y":608.3},{"s":"b2","x":208.3,"y":616.7},{"s":"b2","x":197.3,"y":603.3},{"s":"b2","x":199,"y":585},{"s":"b2","x":210,"y":573.3},{"s":"b2","x":231.7,"y":566},
{"s":"b3","x":343.3,"y":571.7},{"s":"b3","x":355,"y":555},{"s":"b3","x":381,"y":550},{"s":"b3","x":405,"y":555},{"s":"b3","x":416.7,"y":571.7},{"s":"b3","x":421.7,"y":586.7},{"s":"b3","x":418.3,"y":603.3},{"s":"b3","x":408.3,"y":608.3},{"s":"b3","x":405,"y":603.3},{"s":"b3","x":411.7,"y":590},{"s":"b3","x":405,"y":580},{"s":"b3","x":381,"y":569},{"s":"b3","x":356.7,"y":580},{"s":"b3","x":347.7,"y":590},{"s":"b3","x":355,"y":605},{"s":"b3","x":346.7,"y":608.3},{"s":"b3","x":340,"y":600},{"s":"b3","x":339.3,"y":583.3},
{"s":"b4","x":488.3,"y":566.7},{"s":"b4","x":498.3,"y":550},{"s":"b4","x":515,"y":541.7},{"s":"b4","x":531.7,"y":540},{"s":"b4","x":551.7,"y":546.7},{"s":"b4","x":571.7,"y":566.7},{"s":"b4","x":570,"y":575},{"s":"b4","x":563.3,"y":578.3},{"s":"b4","x":551.7,"y":568.3},{"s":"b4","x":531.7,"y":563.3},{"s":"b4","x":518.3,"y":565},{"s":"b4","x":491.7,"y":578.3},{"s":"b4","x":487.3,"y":575},
{"s":"c1","x":115.3,"y":908.3},{"s":"c1","x":110.5,"y":926.3},{"s":"c1","x":97.3,"y":939.5},{"s":"c1","x":79.3,"y":944.3},{"s":"c1","x":61.3,"y":939.5},{"s":"c1","x":48.1,"y":926.3},{"s":"c1","x":43.3,"y":908.3},{"s":"c1","x":48.1,"y":890.3},{"s":"c1","x":61.3,"y":877.1},{"s":"c1","x":79.3,"y":872.3},{"s":"c1","x":97.3,"y":877.1},{"s":"c1","x":110.5,"y":890.3},
{"s":"c2","x":213.3,"y":858.3},{"s":"c2","x":230,"y":860},{"s":"c2","x":248.3,"y":859.3},{"s":"c2","x":263.3,"y":873.3},{"s":"c2","x":270.7,"y":893.3},{"s":"c2","x":266.7,"y":913.3},{"s":"c2","x":250,"y":921.7},{"s":"c2","x":236.7,"y":913.3},{"s":"c2","x":230,"y":908.3},{"s":"c2","x":223.3,"y":913.3},{"s":"c2","x":210,"y":921.7},{"s":"c2","x":196.7,"y":910},{"s":"c2","x":192.7,"y":890},{"s":"c2","x":198.3,"y":871.7},
{"s":"c3","x":338.3,"y":880},{"s":"c3","x":345,"y":860},{"s":"c3","x":355,"y":846.7},{"s":"c3","x":371.7,"y":842.7},{"s":"c3","x":381,"y":845},{"s":"c3","x":391.7,"y":842.7},{"s":"c3","x":408.3,"y":846.7},{"s":"c3","x":420,"y":863.3},{"s":"c3","x":430,"y":883.3},{"s":"c3","x":426.7,"y":903.3},{"s":"c3","x":411.7,"y":914},{"s":"c3","x":400,"y":903.3},{"s":"c3","x":393.3,"y":876.7},{"s":"c3","x":390,"y":858.3},{"s":"c3","x":381.7,"y":855},{"s":"c3","x":376.7,"y":860},{"s":"c3","x":373.3,"y":876.7},{"s":"c3","x":366.7,"y":900},{"s":"c3","x":356.7,"y":914},{"s":"c3","x":343.3,"y":910},{"s":"c3","x":338.3,"y":900},
{"s":"c4a","x":521.7,"y":840},{"s":"c4a","x":508.3,"y":841.7},{"s":"c4a","x":501.7,"y":856.7},{"s":"c4a","x":498.3,"y":881.7},{"s":"c4a","x":508.3,"y":886.7},{"s":"c4a","x":506.7,"y":905},{"s":"c4a","x":495,"y":908.3},{"s":"c4a","x":481.7,"y":896.7},{"s":"c4a","x":477.3,"y":873.3},{"s":"c4a","x":481.7,"y":850},{"s":"c4a","x":490,"y":831.7},{"s":"c4a","x":501.7,"y":820.7},{"s":"c4a","x":518.3,"y":824},
{"s":"c4b","x":545,"y":840},{"s":"c4b","x":546.7,"y":824},{"s":"c4b","x":561.7,"y":820.7},{"s":"c4b","x":575,"y":828.3},{"s":"c4b","x":583.3,"y":850},{"s":"c4b","x":586.7,"y":873.3},{"s":"c4b","x":581.7,"y":896.7},{"s":"c4b","x":568.3,"y":908.3},{"s":"c4b","x":558.3,"y":905},{"s":"c4b","x":558.3,"y":886.7},{"s":"c4b","x":568.3,"y":881.7},{"s":"c4b","x":565,"y":856.7},{"s":"c4b","x":556.7,"y":841.7},
{"s":"c4c","x":527.7,"y":828.3},{"s":"c4c","x":533.3,"y":823.3},{"s":"c4c","x":538.3,"y":828.3},{"s":"c4c","x":533.3,"y":830.7},
{"s":"c5a","x":29.3,"y":1140},{"s":"c5a","x":31.7,"y":1121.7},{"s":"c5a","x":41.7,"y":1110.7},{"s":"c5a","x":55,"y":1109},{"s":"c5a","x":66.7,"y":1116.7},{"s":"c5a","x":68.3,"y":1133.3},{"s":"c5a","x":53.3,"y":1140},{"s":"c5a","x":41.7,"y":1140.7},{"s":"c5a","x":40,"y":1138.3},{"s":"c5a","x":30,"y":1150},{"s":"c5a","x":26.7,"y":1170},{"s":"c5a","x":31.7,"y":1191.7},{"s":"c5a","x":36.7,"y":1190},{"s":"c5a","x":43.3,"y":1178.3},{"s":"c5a","x":51.7,"y":1186.7},{"s":"c5a","x":51.7,"y":1196.7},{"s":"c5a","x":45,"y":1206.7},{"s":"c5a","x":33.3,"y":1207.3},{"s":"c5a","x":23.3,"y":1198.3},{"s":"c5a","x":20.7,"y":1183.3},{"s":"c5a","x":23.3,"y":1156.7},
{"s":"c5b","x":128.7,"y":1140},{"s":"c5b","x":126.3,"y":1121.7},{"s":"c5b","x":116.3,"y":1110.7},{"s":"c5b","x":103,"y":1109},{"s":"c5b","x":91.3,"y":1116.7},{"s":"c5b","x":89.7,"y":1133.3},{"s":"c5b","x":104.7,"y":1140},{"s":"c5b","x":116.3,"y":1140.7},{"s":"c5b","x":118,"y":1138.3},{"s":"c5b","x":128,"y":1150},{"s":"c5b","x":131.3,"y":1170},{"s":"c5b","x":126.3,"y":1191.7},{"s":"c5b","x":121.3,"y":1190},{"s":"c5b","x":114.7,"y":1178.3},{"s":"c5b","x":106.3,"y":1186.7},{"s":"c5b","x":106.3,"y":1196.7},{"s":"c5b","x":113,"y":1206.7},{"s":"c5b","x":124.7,"y":1207.3},{"s":"c5b","x":134.7,"y":1198.3},{"s":"c5b","x":137.3,"y":1183.3},{"s":"c5b","x":134.7,"y":1156.7},
{"s":"c5c","x":75,"y":1123.3},{"s":"c5c","x":78.3,"y":1116},{"s":"c5c","x":81.7,"y":1123.3},{"s":"c5c","x":83.3,"y":1125.7},{"s":"c5c","x":74,"y":1125.7},
{"s":"c6a","x":181.7,"y":1141.7},{"s":"c6a","x":178.3,"y":1130},{"s":"c6a","x":185,"y":1113.3},{"s":"c6a","x":200,"y":1106.7},{"s":"c6a","x":213.3,"y":1111.7},{"s":"c6a","x":219.3,"y":1126.7},{"s":"c6a","x":218.3,"y":1136.7},{"s":"c6a","x":200,"y":1141.7},{"s":"c6a","x":183.3,"y":1145},
{"s":"c6b","x":278.3,"y":1141.7},{"s":"c6b","x":281.7,"y":1130},{"s":"c6b","x":275,"y":1113.3},{"s":"c6b","x":260,"y":1106.7},{"s":"c6b","x":246.7,"y":1111.7},{"s":"c6b","x":240.7,"y":1126.7},{"s":"c6b","x":241.7,"y":1136.7},{"s":"c6b","x":260,"y":1141.7},{"s":"c6b","x":276.7,"y":1145},
{"s":"c6c","x":225,"y":1127.7},{"s":"c6c","x":230,"y":1118.3},{"s":"c6c","x":235,"y":1127.7},{"s":"c6c","x":230,"y":1129.3},
{"s":"c7a","x":328.3,"y":1123.3},{"s":"c7a","x":333.3,"y":1110},{"s":"c7a","x":350,"y":1098.3},{"s":"c7a","x":365,"y":1101.7},{"s":"c7a","x":373.3,"y":1115},{"s":"c7a","x":371.7,"y":1130},{"s":"c7a","x":368.3,"y":1135},{"s":"c7a","x":350,"y":1136.7},{"s":"c7a","x":340,"y":1135},{"s":"c7a","x":338.3,"y":1128.3},{"s":"c7a","x":345,"y":1125},{"s":"c7a","x":333.3,"y":1124.3},
{"s":"c7b","x":431.7,"y":1123.3},{"s":"c7b","x":426.7,"y":1110},{"s":"c7b","x":410,"y":1098.3},{"s":"c7b","x":395,"y":1101.7},{"s":"c7b","x":386.7,"y":1115},{"s":"c7b","x":388.3,"y":1130},{"s":"c7b","x":391.7,"y":1135},{"s":"c7b","x":410,"y":1136.7},{"s":"c7b","x":420,"y":1135},{"s":"c7b","x":421.7,"y":1128.3},{"s":"c7b","x":415,"y":1125},{"s":"c7b","x":426.7,"y":1124.3},
{"s":"c7c","x":376.7,"y":1128.3},{"s":"c7c","x":380,"y":1122.7},{"s":"c7c","x":385,"y":1126.7},{"s":"c7c","x":381.7,"y":1131},
{"s":"c7d","x":333.3,"y":1173.3},{"s":"c7d","x":340,"y":1181.7},{"s":"c7d","x":351.7,"y":1185},{"s":"c7d","x":353.3,"y":1195},{"s":"c7d","x":343.3,"y":1210},{"s":"c7d","x":333.3,"y":1210},{"s":"c7d","x":326.7,"y":1193.3},{"s":"c7d","x":328.3,"y":1180},
{"s":"c7e","x":426.7,"y":1173.3},{"s":"c7e","x":420,"y":1181.7},{"s":"c7e","x":408.3,"y":1185},{"s":"c7e","x":406.7,"y":1195},{"s":"c7e","x":416.7,"y":1210},{"s":"c7e","x":426.7,"y":1210},{"s":"c7e","x":433.3,"y":1193.3},{"s":"c7e","x":431.7,"y":1180},
{"s":"c7f","x":323.3,"y":1198.3},{"s":"c7f","x":327.3,"y":1203.3},{"s":"c7f","x":325,"y":1210},{"s":"c7f","x":321.7,"y":1205},
{"s":"c7g","x":436.7,"y":1198.3},{"s":"c7g","x":432.7,"y":1203.3},{"s":"c7g","x":435,"y":1210},{"s":"c7g","x":438.3,"y":1205},
{"s":"c8a","x":480,"y":1115},{"s":"c8a","x":485,"y":1100},{"s":"c8a","x":503.3,"y":1093.3},{"s":"c8a","x":520,"y":1103.3},{"s":"c8a","x":526.7,"y":1123.3},{"s":"c8a","x":528.3,"y":1133.3},{"s":"c8a","x":513.3,"y":1137.3},{"s":"c8a","x":500,"y":1128.3},{"s":"c8a","x":511.7,"y":1123.3},{"s":"c8a","x":500,"y":1118.3},{"s":"c8a","x":480,"y":1123.3},
{"s":"c8b","x":580,"y":1115},{"s":"c8b","x":575,"y":1100},{"s":"c8b","x":556.7,"y":1093.3},{"s":"c8b","x":540,"y":1103.3},{"s":"c8b","x":533.3,"y":1123.3},{"s":"c8b","x":531.7,"y":1133.3},{"s":"c8b","x":546.7,"y":1137.3},{"s":"c8b","x":560,"y":1128.3},{"s":"c8b","x":548.3,"y":1123.3},{"s":"c8b","x":560,"y":1118.3},{"s":"c8b","x":580,"y":1123.3},
{"s":"c8c","x":490,"y":1171.7},{"s":"c8c","x":498.3,"y":1175},{"s":"c8c","x":495,"y":1186.7},{"s":"c8c","x":500.7,"y":1208.3},{"s":"c8c","x":476.7,"y":1206.7},{"s":"c8c","x":480,"y":1193.3},{"s":"c8c","x":488.3,"y":1173.3},
{"s":"c8d","x":570,"y":1171.7},{"s":"c8d","x":561.7,"y":1175},{"s":"c8d","x":565,"y":1186.7},{"s":"c8d","x":559.3,"y":1208.3},{"s":"c8d","x":583.3,"y":1206.7},{"s":"c8d","x":580,"y":1193.3},{"s":"c8d","x":571.7,"y":1173.3},
{"s":"c8e","x":478,"y":1216},{"s":"c8e","x":483,"y":1219},{"s":"c8e","x":480,"y":1222},{"s":"c8e","x":477,"y":1220},
{"s":"c8f","x":582,"y":1216},{"s":"c8f","x":577,"y":1219},{"s":"c8f","x":580,"y":1222},{"s":"c8f","x":583,"y":1220},
{"s":"c8g","x":523,"y":1135},{"s":"c8g","x":530,"y":1133},{"s":"c8g","x":537,"y":1135},{"s":"c8g","x":530,"y":1137}],
"openc":[
{"s":"b4l","x":485.7,"y":598.3},{"s":"b4l","x":491.7,"y":601.7},{"s":"b4l","x":496.7,"y":601},{"s":"b4l","x":500,"y":603.3},{"s":"b4l","x":495,"y":605.7},{"s":"b4l","x":491,"y":603.3},{"s":"b4l","x":493.3,"y":600.7},
{"s":"b4r","x":570.7,"y":598.3},{"s":"b4r","x":563.3,"y":601.7},{"s":"b4r","x":558.3,"y":601},{"s":"b4r","x":555.7,"y":604},{"s":"b4r","x":560,"y":606},{"s":"b4r","x":564.3,"y":603.3},{"s":"b4r","x":562.3,"y":601},
{"s":"c6l","x":171,"y":1166.7},{"s":"c6l","x":169.3,"y":1180},{"s":"c6l","x":173.3,"y":1201.7},{"s":"c6l","x":183.3,"y":1210},{"s":"c6l","x":196.7,"y":1206.7},{"s":"c6l","x":203.3,"y":1190},{"s":"c6l","x":196.7,"y":1176},{"s":"c6l","x":188.3,"y":1175},{"s":"c6l","x":183.3,"y":1190},{"s":"c6l","x":183.3,"y":1202.7},{"s":"c6l","x":176.7,"y":1201.7},
{"s":"c6r","x":289,"y":1166.7},{"s":"c6r","x":290.7,"y":1180},{"s":"c6r","x":286.7,"y":1201.7},{"s":"c6r","x":276.7,"y":1210},{"s":"c6r","x":263.3,"y":1206.7},{"s":"c6r","x":256.7,"y":1190},{"s":"c6r","x":263.3,"y":1176},{"s":"c6r","x":271.7,"y":1175},{"s":"c6r","x":276.7,"y":1190},{"s":"c6r","x":276.7,"y":1202.7},{"s":"c6r","x":283.3,"y":1201.7}]
},
"encoding":{"x":{"field":"x","type":"quantitative","axis":null,"scale":{"domain":[0,590],"nice":false,"zero":false}},"y":{"field":"y","type":"quantitative","axis":null,"scale":{"domain":[1290,0],"nice":false,"zero":false}}},
"layer":[
{"data":{"name":"panels"},"mark":{"type":"rect","fill":"#8a001a","stroke":"#c47a8a","strokeWidth":0.7},"encoding":{"x2":{"field":"x2"},"y2":{"field":"y2"}}},
{"data":{"name":"tan"},"transform":[{"window":[{"op":"row_number","as":"i"}]}],"mark":{"type":"line","stroke":"#d99f80","strokeWidth":3,"strokeCap":"round","strokeJoin":"round","interpolate":"cardinal","opacity":0.7},"encoding":{"detail":{"field":"s"},"order":{"field":"i","type":"quantitative"}}},
{"data":{"name":"halos"},"transform":[{"window":[{"op":"row_number","as":"i"}]}],"mark":{"type":"line","fill":"#dca888","stroke":"#dca888","strokeWidth":2,"interpolate":"cardinal-closed"},"encoding":{"detail":{"field":"s"},"order":{"field":"i","type":"quantitative"}}},
{"data":{"name":"blobs"},"transform":[{"window":[{"op":"row_number","as":"i"}]},{"filter":"datum.g=='c'"}],"mark":{"type":"line","fill":"#2f3f92","stroke":"#dcab8c","strokeWidth":4.5,"strokeJoin":"round","interpolate":"cardinal-closed"},"encoding":{"detail":{"field":"s"},"order":{"field":"i","type":"quantitative"}}},
{"data":{"name":"blobs"},"transform":[{"window":[{"op":"row_number","as":"i"}]},{"filter":"datum.g!='c'"}],"mark":{"type":"line","fill":"#2f3f92","stroke":"#d9b493","strokeWidth":2.4,"strokeJoin":"round","interpolate":"cardinal-closed"},"encoding":{"detail":{"field":"s"},"order":{"field":"i","type":"quantitative"}}},
{"data":{"name":"blobs"},"transform":[{"window":[{"op":"row_number","as":"i"}]}],"mark":{"type":"line","fill":"#2f3f92","stroke":"#8fa6d4","strokeWidth":1.3,"strokeJoin":"round","interpolate":"cardinal-closed"},"encoding":{"detail":{"field":"s"},"order":{"field":"i","type":"quantitative"}}},
{"data":{"name":"light"},"transform":[{"window":[{"op":"row_number","as":"i"}]}],"mark":{"type":"line","stroke":"#7f96cf","strokeWidth":2.2,"strokeCap":"round","interpolate":"cardinal"},"encoding":{"detail":{"field":"s"},"order":{"field":"i","type":"quantitative"}}},
{"data":{"name":"blue"},"transform":[{"window":[{"op":"row_number","as":"i"}]}],"mark":{"type":"line","stroke":"#2f3f92","strokeWidth":4.5,"strokeCap":"round"},"encoding":{"detail":{"field":"s"},"order":{"field":"i","type":"quantitative"}}},
{"data":{"name":"contours"},"transform":[{"window":[{"op":"row_number","as":"i"}]},{"filter":"test(/^a/,datum.s)"}],"mark":{"type":"line","stroke":"#2a0006","strokeWidth":1,"interpolate":"cardinal-closed"},"encoding":{"detail":{"field":"s"},"order":{"field":"i","type":"quantitative"}}},
{"data":{"name":"contours"},"transform":[{"window":[{"op":"row_number","as":"i"}]},{"filter":"!test(/^a/,datum.s)"}],"mark":{"type":"line","stroke":"#14090c","strokeWidth":1.4,"interpolate":"cardinal-closed"},"encoding":{"detail":{"field":"s"},"order":{"field":"i","type":"quantitative"}}},
{"data":{"name":"openc"},"transform":[{"window":[{"op":"row_number","as":"i"}]}],"mark":{"type":"line","stroke":"#14090c","strokeWidth":1.4,"interpolate":"cardinal"},"encoding":{"detail":{"field":"s"},"order":{"field":"i","type":"quantitative"}}},
{"data":{"name":"labels"},"transform":[{"filter":"datum.k=='h'"}],"mark":{"type":"text","font":"Liberation Serif","fontSize":28,"fill":"#111111","align":"center","baseline":"middle"},"encoding":{"text":{"field":"t"}}},
{"data":{"name":"labels"},"transform":[{"filter":"datum.k=='m'"}],"mark":{"type":"text","font":"Liberation Serif","fontSize":17.5,"fill":"#f0e4e4","align":"left","baseline":"middle"},"encoding":{"text":{"field":"t"}}},
{"data":{"name":"labels"},"transform":[{"filter":"datum.k=='m2'"}],"mark":{"type":"text","font":"Liberation Serif","fontSize":15.5,"fill":"#f0e4e4","align":"left","baseline":"middle"},"encoding":{"text":{"field":"t"}}},
{"data":{"name":"labels"},"transform":[{"filter":"datum.k=='s'"}],"mark":{"type":"text","font":"Liberation Serif","fontSize":13,"fill":"#ecdcdc","align":"left","baseline":"middle"},"encoding":{"text":{"field":"t"}}}
]}
